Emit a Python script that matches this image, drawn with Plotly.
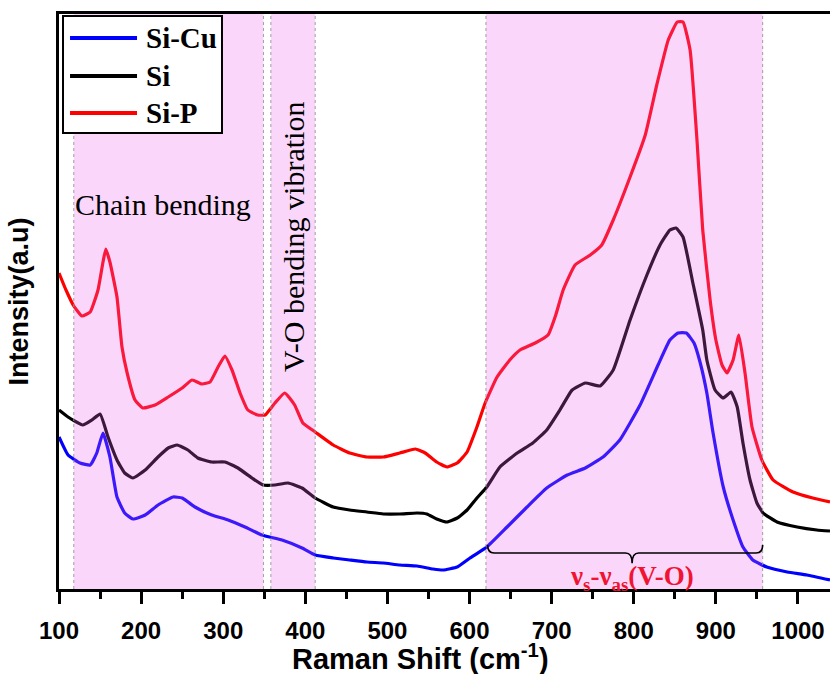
import plotly.graph_objects as go

# ---------------- data (Raman shift in cm-1, intensity in a.u.) ----------------
sip_x = [100, 108.5, 118, 128, 138, 147.5, 153.6, 157, 162, 170.6, 176.7, 183, 192.6, 202, 217, 233, 250, 262,
         274, 284, 293.7, 302, 310.7, 320.5, 330, 342, 351, 363, 375, 387, 397, 412, 434, 454, 475, 495, 515,
         534, 546, 560, 572.6, 585, 597, 609, 619, 633.5, 649, 661.5, 680, 695.6, 705, 714, 728.5, 747, 761,
         775, 795.5, 814, 828, 842, 853, 860, 868.6, 877, 884, 893, 900, 907.5, 913.6, 921, 928, 935.5, 944,
         956, 969.7, 994, 1018, 1039]
sip_y = [316, 299, 283, 273, 277, 299, 327, 340, 327, 292, 242, 216, 189, 181, 184, 192, 201, 209,
         205, 207, 222, 233, 219, 196, 179, 174, 174, 186, 196, 184, 166, 157, 144, 136, 132, 132, 136,
         140, 136, 127, 122, 126, 137, 162, 186, 212, 229, 239, 246, 254, 274, 299, 324, 334, 344,
         369, 412, 454, 504, 549, 567, 567, 539, 449, 359, 289, 249, 224, 216, 229, 254, 216, 162,
         129, 109, 97, 91, 87]

si_x = [100, 111, 129, 140, 150, 159.7, 170.6, 180, 190, 205, 220.6, 233, 244, 257, 269, 286, 302, 318, 335,
        348.5, 363, 379, 396, 412, 434, 454, 475, 495, 515, 536, 548, 560, 572.6, 585, 597, 609, 621, 637,
        658, 677, 694, 710, 725, 741, 759, 775, 795.5, 816, 832, 844, 851.5, 860, 872, 884, 889, 899, 909,
        918.5, 926, 933, 941.6, 950, 957.5, 974.5, 999, 1023, 1039]
si_y = [179, 172, 164, 169, 175, 152, 129, 116, 111, 119, 132, 141, 144, 139, 131, 127, 127, 121, 111,
        104, 104, 106, 101, 91, 82, 79, 77, 75, 75, 76, 75, 70, 67, 71, 79, 91, 102, 122,
        136, 146, 159, 179, 199, 206, 203, 219, 269, 314, 344, 359, 361, 352, 306, 259, 229, 199, 191,
        197, 182, 146, 109, 86, 76, 67, 62, 59, 58]

sicu_x = [100, 111, 125.6, 138, 146, 153.6, 162, 170.6, 180, 190, 205, 220.6, 239, 250, 265.6, 286, 306,
          326.5, 347, 371.6, 396, 412, 434, 454, 475, 495, 515, 536, 555.5, 568, 585, 600.6, 621, 645.7,
          670, 694, 719, 741, 762.6, 783, 807.7, 829.6, 844, 854, 864, 873.4, 881, 889, 896.6, 909, 921,
          933, 945, 962, 987, 1011, 1039]
sicu_y = [152, 134, 126, 124, 136, 156, 132, 92, 76, 70, 74, 84, 92, 91, 82, 74, 69,
          62, 54, 49, 41, 34, 31, 29, 27, 26, 24, 23, 20, 19, 22, 31, 42, 62,
          82, 101, 114, 121, 132, 149, 184, 224, 249, 256, 256, 246, 226, 196, 156, 102, 69,
          42, 29, 22, 17, 14, 9]

series_names = ["Si-Cu", "Si", "Si-P"]
series_colors = ["#0000ff", "#000000", "#ff0000"]

# shaded band limits (cm-1)
bands = [(118, 349), (358, 412), (620, 957)]
tick_vals = [100, 200, 300, 400, 500, 600, 700, 800, 900, 1000]
x_range = [100, 1039]
y_range = [0, 575]

# brace under the nu_s - nu_as band
brace_x0, brace_x1, brace_mid = 622, 957, 798

# ---------------- figure ----------------
fig = go.Figure()
for name, xs, ys, col in zip(series_names, [sicu_x, si_x, sip_x], [sicu_y, si_y, sip_y], series_colors):
    fig.add_trace(go.Scatter(x=xs, y=ys, mode="lines", name=name, showlegend=False,
                             line=dict(color=col, width=3.2, shape="spline", smoothing=0.4)))

shapes = []
for (a, b) in bands:
    shapes.append(dict(type="rect", xref="x", yref="paper", x0=a, x1=b, y0=0, y1=1,
                       fillcolor="rgba(235,98,235,0.255)", line=dict(width=0), layer="above"))
    for xv in (a, b):
        shapes.append(dict(type="line", xref="x", yref="paper", x0=xv, x1=xv, y0=0, y1=1,
                           line=dict(color="rgba(150,150,150,0.9)", width=1, dash="dot"), layer="above"))

yl, ye, yt = 0.0626, 0.0765, 0.045
d = 8
path = (f"M {brace_x0},{ye} Q {brace_x0},{yl} {brace_x0 + d},{yl} "
        f"L {brace_mid - d},{yl} Q {brace_mid},{yl} {brace_mid},{yt} "
        f"Q {brace_mid},{yl} {brace_mid + d},{yl} L {brace_x1 - d},{yl} "
        f"Q {brace_x1},{yl} {brace_x1},{ye}")
shapes.append(dict(type="path", xref="x", yref="paper", path=path,
                   line=dict(color="black", width=1.6), layer="above"))

serif = "Liberation Serif, Times New Roman, serif"
sans = "Liberation Sans, Arial, sans-serif"

# legend box (drawn as a framed key in the top-left corner)
leg_x0, leg_x1, leg_y0, leg_y1 = 0.0052, 0.2114, 0.793, 0.9965
leg_line_x0, leg_line_x1, leg_text_x = 0.0143, 0.1012, 0.1102
leg_rows = [0.9583, 0.8922, 0.8278]
shapes.append(dict(type="rect", xref="paper", yref="paper", x0=leg_x0, x1=leg_x1, y0=leg_y0, y1=leg_y1,
                   fillcolor="white", line=dict(color="black", width=2), layer="above"))
annotations = []
for name, col, ry in zip(series_names, series_colors, leg_rows):
    shapes.append(dict(type="line", xref="paper", yref="paper", x0=leg_line_x0, x1=leg_line_x1,
                       y0=ry, y1=ry, line=dict(color=col, width=4), layer="above"))
    annotations.append(dict(text=name, x=leg_text_x, y=ry, xref="paper", yref="paper", showarrow=False,
                            xanchor="left", yanchor="middle",
                            font=dict(family=serif, size=29, color="black", weight="bold")))

annotations += [
    dict(text="Chain bending", x=226.7, y=0.668, xref="x", yref="paper", showarrow=False,
         xanchor="center", yanchor="middle",
         font=dict(family=serif, size=30, color="black")),
    dict(text="V-O bending vibration", x=385, y=0.612, xref="x", yref="paper", showarrow=False,
         xanchor="center", yanchor="middle",
         textangle=-90, font=dict(family=serif, size=30, color="black")),
    dict(text="ν<sub>s</sub>-ν<sub>as</sub>(V-O)", x=brace_mid, y=0.052, xref="x", yref="paper",
         showarrow=False, xanchor="center", yanchor="top",
         font=dict(family=serif, size=27, color="rgb(240,20,50)", weight="bold")),
    dict(text="Raman Shift (cm<sup>-1</sup>)", x=0.4695, y=-0.1183, xref="paper", yref="paper",
         showarrow=False, xanchor="center", yanchor="middle",
         font=dict(family=sans, size=29, color="black", weight="bold")),
]

fig.update_layout(
    width=830, height=674,
    margin=dict(l=59, r=0, t=14, b=85),
    paper_bgcolor="white", plot_bgcolor="white",
    shapes=shapes, annotations=annotations, showlegend=False,
    xaxis=dict(range=x_range, tickvals=tick_vals, ticks="outside", ticklen=12, tickwidth=3,
               tickcolor="black", showline=True, linewidth=3, linecolor="black", mirror=True,
               showgrid=False, zeroline=False, ticklabelstandoff=6,
               minor=dict(ticks="outside", ticklen=7, tickwidth=3, tickcolor="black", dtick=50,
                          tick0=150, showgrid=False),
               tickfont=dict(family=sans, size=24, color="black", weight="bold"),
               automargin=False),
    yaxis=dict(range=y_range, showticklabels=False, ticks="", showline=True, linewidth=3,
               linecolor="black", mirror=False, showgrid=False, zeroline=False,
               title=dict(text="Intensity(a.u)", standoff=20,
                          font=dict(family=sans, size=27, color="black", weight="bold")),
               automargin=False),
)

fig.write_html("out.html")
